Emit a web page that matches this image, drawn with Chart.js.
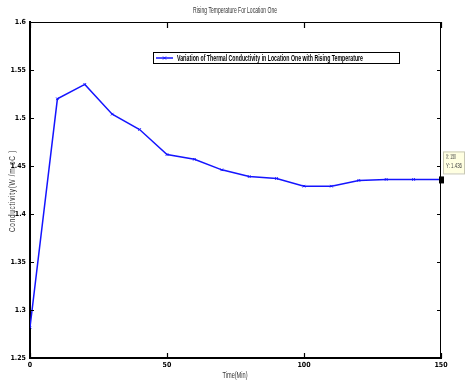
<!DOCTYPE html>
<html>
<head>
<meta charset="utf-8">
<script src="https://cdn.jsdelivr.net/npm/chart.js@4"></script>
<style>
  html, body { margin: 0; padding: 0; background: #fff; }
  #wrap { width: 465px; height: 387px; }
</style>
</head>
<body>
<div id="wrap"><canvas id="kChart" width="465" height="387"></canvas></div>
<script>
// time in minutes and conductivity
const times = [0, 10, 20, 30, 40, 50, 60, 70, 80, 90, 100, 110, 120, 130, 140, 150];
const conductivity = [1.282, 1.520, 1.535, 1.504, 1.488, 1.462, 1.457, 1.446, 1.439, 1.437, 1.429, 1.429, 1.435, 1.436, 1.436, 1.436];
const xTicks = [0, 50, 100, 150];
const yTicks = [1.25, 1.3, 1.35, 1.4, 1.45, 1.5, 1.55, 1.6];

const chartTitle = 'Rising Temperature For Location One';
const xTitle = 'Time(Min)';
const yTitle = 'Conductivity(W /m oC )';
const seriesName = 'Variation of Thermal Conductivity in Location One with Rising Temperature';
const tipIndex = 15;

const narrow = "'DejaVu Sans Condensed', 'Liberation Sans Narrow', 'Liberation Sans', Arial, sans-serif";
const plainFont = "'Liberation Sans', Arial, sans-serif";
const blue = 'rgb(20,20,255)';

const points = times.map((t, i) => ({ x: t, y: conductivity[i] }));

// squeeze text horizontally so it fills the given width (MATLAB export looks condensed)
function fitText(c, text, x, y, width, align) {
    const w = c.measureText(text).width;
    const k = Math.min(1, width / w);
    c.save();
    c.translate(x, y);
    c.scale(k, 1);
    c.textAlign = align || 'center';
    c.fillText(text, 0, 0);
    c.restore();
}

// MATLAB-like decorations: box, inward ticks, titles, legend, data tip
const matlabDeco = {
    id: 'matlabDeco',
    afterDraw(chart) {
        const c = chart.ctx;
        const a = chart.chartArea;
        const xs = chart.scales.x, ys = chart.scales.y;
        c.save();
        c.strokeStyle = '#000';
        c.lineWidth = 1;
        // top and right box edges
        c.beginPath();
        c.moveTo(a.left, a.top + 0.5); c.lineTo(a.right, a.top + 0.5);
        c.moveTo(a.right - 0.5, a.top); c.lineTo(a.right - 0.5, a.bottom);
        c.stroke();
        c.lineWidth = 1.2;
        c.beginPath();
        xTicks.forEach(v => {
            const px = Math.round(xs.getPixelForValue(v)) + 0.5;
            c.moveTo(px, a.bottom); c.lineTo(px, a.bottom - 5);
            c.moveTo(px, a.top); c.lineTo(px, a.top + 6);
        });
        yTicks.forEach(v => {
            const py = Math.round(ys.getPixelForValue(v)) + 0.5;
            c.moveTo(a.left, py); c.lineTo(a.left + 4, py);
            c.moveTo(a.right, py); c.lineTo(a.right - 4, py);
        });
        c.stroke();

        // titles
        c.fillStyle = '#333';
        c.font = '9px ' + plainFont;
        c.textBaseline = 'middle';
        fitText(c, chartTitle, 235, 11, 84);
        fitText(c, xTitle, 235, 376, 25);
        c.save();
        c.translate(13, 191);
        c.rotate(-Math.PI / 2);
        c.letterSpacing = '1px';
        c.font = '9px ' + plainFont;
        fitText(c, yTitle, 0, 0, 82);
        c.restore();

        // legend box
        const lx = 153, ly = 52, lw = 246, lh = 11;
        c.fillStyle = '#fff';
        c.fillRect(lx, ly, lw, lh);
        c.lineWidth = 1;
        c.strokeStyle = '#000';
        c.strokeRect(lx + 0.5, ly + 0.5, lw, lh);
        c.strokeStyle = blue;
        c.lineWidth = 1.5;
        c.beginPath();
        c.moveTo(lx + 3, ly + 6); c.lineTo(lx + 20, ly + 6);
        c.stroke();
        c.lineWidth = 1;
        c.beginPath();
        c.moveTo(lx + 10, ly + 4.5); c.lineTo(lx + 13, ly + 7.5);
        c.moveTo(lx + 13, ly + 4.5); c.lineTo(lx + 10, ly + 7.5);
        c.stroke();
        c.fillStyle = '#000';
        c.font = 'bold 9px ' + plainFont;
        fitText(c, seriesName, lx + 24, ly + 6.5, 186, 'left');

        // data tip
        const px = xs.getPixelForValue(times[tipIndex]);
        const py = ys.getPixelForValue(conductivity[tipIndex]);
        c.fillStyle = '#000';
        c.fillRect(px - 2, py - 3, 5, 7);
        c.fillStyle = 'rgb(255,255,225)';
        c.fillRect(px + 2, py - 28, 21, 22);
        c.strokeStyle = '#c8c8b4';
        c.strokeRect(px + 2.5, py - 27.5, 21, 22);
        c.fillStyle = '#444';
        c.font = '7px ' + plainFont;
        fitText(c, 'X: ' + times[tipIndex], px + 5, py - 22, 10, 'left');
        fitText(c, 'Y: ' + conductivity[tipIndex].toFixed(3), px + 5, py - 13, 16, 'left');
        c.restore();
    }
};

const ctx = document.getElementById('kChart').getContext('2d');
const chart = new Chart(ctx, {
    type: 'line',
    data: {
        datasets: [{
            label: seriesName,
            data: points,
            borderColor: blue,
            backgroundColor: blue,
            borderWidth: 1.5,
            pointStyle: 'crossRot',
            pointRadius: 1.8,
            pointBorderWidth: 1,
            fill: false,
            tension: 0
        }]
    },
    options: {
        responsive: false,
        animation: false,
        layout: { padding: { top: 22, right: 24, left: 0, bottom: 0 } },
        plugins: {
            legend: { display: false },
            title: { display: false },
            tooltip: { enabled: false }
        },
        scales: {
            x: {
                type: 'linear',
                min: 0,
                max: 150,
                afterFit: s => { s.height = 29; },
                afterBuildTicks: s => { s.ticks = xTicks.map(v => ({ value: v })); },
                grid: { display: false, drawTicks: false },
                border: { display: true, color: '#000', width: 2 },
                ticks: {
                    padding: 3,
                    color: '#000',
                    font: { family: narrow, size: 7, weight: 'bold' }
                }
            },
            y: {
                min: 1.25,
                max: 1.6,
                afterFit: s => { s.width = 30; },
                afterBuildTicks: s => { s.ticks = yTicks.map(v => ({ value: v })); },
                grid: { display: false, drawTicks: false },
                border: { display: true, color: '#000', width: 2 },
                ticks: {
                    padding: 4,
                    color: '#000',
                    font: { family: narrow, size: 7, weight: 'bold' },
                    callback: v => String(+v.toFixed(2))
                }
            }
        }
    },
    plugins: [matlabDeco]
});
</script>
</body>
</html>
